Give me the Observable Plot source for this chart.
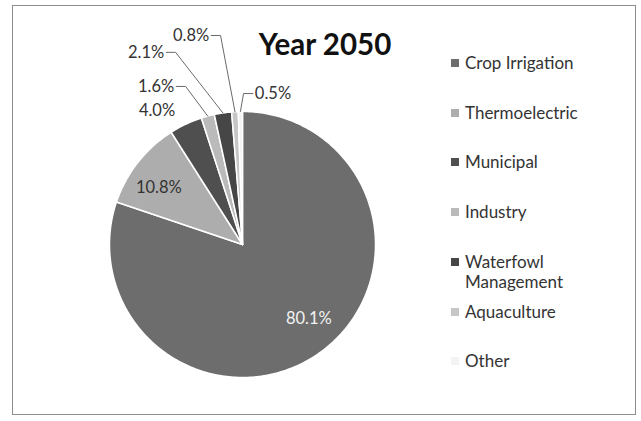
<!DOCTYPE html>
<html>
<head>
<meta charset="utf-8">
<script src="https://cdn.jsdelivr.net/npm/d3@7"></script>
<script src="https://cdn.jsdelivr.net/npm/@observablehq/plot@0.6"></script>
<style>
  body { margin: 0; background: #fff; }
  #wrap { position: relative; width: 641px; height: 421px; overflow: hidden; font-family: Lato, "Open Sans", sans-serif; background: #fff; }
  #frame { position: absolute; left: 12px; top: 5px; width: 624px; height: 410px; border: 1.5px solid #8c8c8c; box-sizing: border-box; pointer-events: none; }
  #chart { position: absolute; left: 0; top: 0; }
  #title { position: absolute; left: 230px; width: 190px; top: 28px; text-align: center; font-weight: 700; font-size: 29.5px; color: #111; line-height: 32px; }
  .leg { position: absolute; left: 451px; width: 150px; display: flex; align-items: flex-start; font-size: 17px; line-height: 20px; color: #333; }
  .leg .sw { width: 8px; height: 8px; margin-top: 6px; margin-right: 6px; flex: none; }
  .leg .tx { width: 125px; }
</style>
</head>
<body>
<div id="wrap">
  <div id="chart"></div>
  <div id="title"></div>
  <div id="frame"></div>
</div>
<script>
// ---- data ----
const title = "Year 2050";
const categories = ["Crop Irrigation", "Thermoelectric", "Municipal", "Industry", "Waterfowl Management", "Aquaculture", "Other"];
const shares = [80.1, 10.8, 4.0, 1.6, 2.1, 0.8, 0.5];
const labels = ["80.1%", "10.8%", "4.0%", "1.6%", "2.1%", "0.8%", "0.5%"];
const colors = ["#6d6d6d", "#adadad", "#4f4f4f", "#bababa", "#464646", "#c6c6c6", "#f3f3f3"];

// ---- label layout (radius in pie radii, angle in degrees clockwise from 12 o'clock) ----
const labelLayout = [
  { kind: "inside", r: 0.75, dAngle: -6, color: "#f2f2f2" },
  { kind: "inside", r: 0.76, dAngle: -4, color: "#333" },
  { kind: "outside", r: 1.12, dAngle: -0.8, color: "#333" },
  { kind: "leader", r: 1.263, angle: 340.2, side: -1, color: "#333" },
  { kind: "leader", r: 1.53, angle: 340.8, side: -1, color: "#333" },
  { kind: "leader", r: 1.58, angle: 354.0, side: -1, color: "#333" },
  { kind: "leader", r: 1.135, angle: 0.4, side: 1, color: "#333" }
];
const tailLen = 0.07;

// ---- geometry from data ----
const pie = d3.pie().sort(null).value(d => d)(shares);
const slices = pie.map((p, i) => ({
  name: categories[i], start: p.startAngle, end: p.endAngle, mid: (p.startAngle + p.endAngle) / 2
}));
const polys = slices.flatMap(s => {
  const n = Math.max(2, Math.ceil((s.end - s.start) / (Math.PI / 180)));
  const pts = [{ name: s.name, x: 0, y: 0 }];
  for (let k = 0; k <= n; k++) {
    const a = s.start + (s.end - s.start) * k / n;
    pts.push({ name: s.name, x: Math.sin(a), y: Math.cos(a) });
  }
  return pts;
});

const textData = [];
const leaderData = [];
slices.forEach((s, i) => {
  const L = labelLayout[i];
  if (L.kind === "inside" || L.kind === "outside") {
    const a = s.mid + L.dAngle * Math.PI / 180;
    textData.push({ text: labels[i], x: L.r * Math.sin(a), y: L.r * Math.cos(a),
      anchor: L.kind === "inside" ? "middle" : "end", color: L.color });
  } else {
    const a = L.angle * Math.PI / 180;
    const ex = L.r * Math.sin(a), ey = L.r * Math.cos(a);
    const tx = ex + L.side * tailLen;
    leaderData.push({ id: i, x: Math.sin(s.mid), y: Math.cos(s.mid) });
    leaderData.push({ id: i, x: ex, y: ey });
    leaderData.push({ id: i, x: tx, y: ey });
    textData.push({ text: labels[i], x: tx, y: ey, anchor: L.side < 0 ? "end" : "start", color: L.color });
  }
});

const chart = Plot.plot({
  width: 641,
  height: 421,
  marginLeft: 109,
  marginRight: 266,
  marginTop: 111,
  marginBottom: 44,
  x: { domain: [-1, 1], axis: null },
  y: { domain: [-1, 1], axis: null },
  color: { domain: categories, range: colors },
  style: { fontFamily: "Lato, 'Open Sans', sans-serif", fontSize: "16.5px", background: "transparent", overflow: "visible" },
  marks: [
    Plot.line(polys, { x: "x", y: "y", z: "name", fill: "name", stroke: "white", strokeWidth: 1.5, curve: "linear-closed" }),
    Plot.line(leaderData, { x: "x", y: "y", z: "id", stroke: "#6a6a6a", strokeWidth: 1 }),
    ...["end", "start", "middle"].map(anc =>
      Plot.text(textData.filter(d => d.anchor === anc), {
        x: "x", y: "y", text: "text", fill: d => d.color, textAnchor: anc,
        dx: anc === "end" ? -2 : anc === "start" ? 2 : 0
      }))
  ]
});
document.getElementById("chart").appendChild(chart);

// title
document.getElementById("title").textContent = title;

// legend built from the same arrays
const wrap = document.getElementById("wrap");
categories.forEach((c, i) => {
  const item = document.createElement("div");
  item.className = "leg";
  item.style.top = (53 + i * 49.7) + "px";
  const sw = document.createElement("div");
  sw.className = "sw";
  sw.style.background = colors[i];
  const tx = document.createElement("div");
  tx.className = "tx";
  tx.textContent = c;
  item.appendChild(sw);
  item.appendChild(tx);
  wrap.appendChild(item);
});
</script>
</body>
</html>
